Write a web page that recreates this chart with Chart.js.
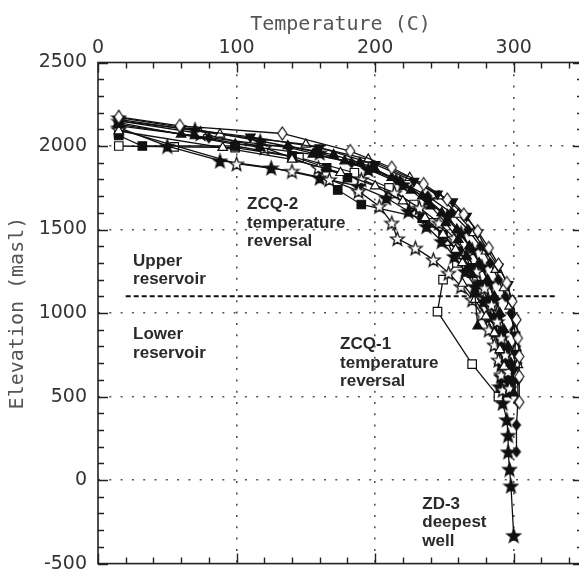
<!DOCTYPE html>
<html>
<head>
<meta charset="utf-8">
<script src="https://cdn.jsdelivr.net/npm/chart.js@4/dist/chart.umd.min.js"></script>
<style>
  html, body { margin: 0; padding: 0; background: #fff; overflow: hidden; }
  #wrap { width: 579px; height: 586px; overflow: hidden; }
  canvas { display: block; }
</style>
</head>
<body>
<div id="wrap"><canvas id="chart" width="610" height="586" style="width:610px;height:586px"></canvas></div>
<script>
// Well temperature profiles: [temperature (C), elevation (masl)]
const wellDiamondOpen = [[15,2174],[59,2121],[133,2075],[182,1970],[212,1870],[235,1772],[252,1680],[264,1590],[274,1490],[282,1390],[289,1290],[295,1180],[299,1070],[302,960],[303,850],[304,740],[304,620],[304,467]];
const wellInvTriangle = [[15,2150],[60,2105],[110,2055],[160,1990],[200,1890],[228,1790],[245,1714],[256,1667],[266,1580],[274,1480],[281,1376],[289,1277],[296,1172],[298,1073],[300,970],[301,870],[301,760],[300,660]];
const wellTriangleA = [[15,2140],[60,2070],[99,2010],[137,2000],[157,1970],[170,1947],[189,1900],[198,1871],[212,1810],[226,1735],[240,1640],[251,1540],[260,1440],[266,1340],[270,1230],[272,1114],[274,921]];
const wellTriangleB = [[15,2130],[70,2060],[117,1990],[155,1950],[178,1910],[200,1860],[218,1790],[234,1700],[248,1600],[259,1500],[268,1400],[275,1300],[281,1200],[286,1100],[290,1000],[293,900],[296,800],[298,700],[299,600],[300,520]];
const wellZCQ1 = [[15,2000],[55,1995],[99,1990],[145,1930],[185,1840],[210,1750],[228,1650],[242,1540],[252,1430],[259,1300],[249,1200],[245,1008],[270,694],[289,500]];
const wellZCQ2 = [[15,2063],[32,2000],[99,2000],[140,1940],[165,1870],[180,1810],[173,1737],[190,1650],[234,1568],[249,1470],[260,1370],[269,1270],[276,1170],[282,1070],[287,970],[291,870],[294,770],[296,670],[298,570]];
const wellZD3 = [[15,2170],[70,2100],[117,2030],[160,1960],[195,1860],[220,1770],[238,1680],[252,1580],[262,1480],[270,1380],[277,1280],[282,1180],[286,1080],[289,980],[291,880],[292,780],[291,690],[291,619],[290,560],[292,462],[295,362],[296,269],[296,170],[297,66],[298,-34],[300,-331]];
const wellStarOpenA = [[15,2150],[74,2075],[120,1990],[159,1871],[190,1800],[214,1720],[232,1630],[246,1540],[257,1450],[266,1350],[273,1250],[279,1150],[284,1050],[288,950],[291,850],[294,750],[296,650],[297,550]];
const wellStarFilledB = [[15,2110],[50,2000],[88,1912],[125,1870],[160,1810],[188,1760],[208,1690],[224,1610],[237,1520],[248,1430],[257,1340],[265,1250],[272,1160],[278,1070],[283,980],[287,890],[290,800],[292,710],[294,620],[295,530]];
const wellStarOpenC = [[15,2100],[100,1894],[140,1850],[167,1800],[188,1730],[203,1640],[212,1540],[216,1446],[229,1390],[242,1320],[253,1240],[262,1160],[270,1080],[277,990],[282,900],[286,810],[289,720],[291,630],[292,540]];
const wellDiamondFilled = [[15,2120],[80,2050],[138,1990],[183,1900],[215,1800],[238,1700],[255,1600],[267,1500],[276,1400],[283,1300],[289,1200],[294,1100],[298,1000],[300,900],[302,800],[303,700],[303,600],[303,467],[302,330],[302,170]];
const wellTriangleOpenA = [[15,2160],[88,2070],[150,2010],[195,1920],[225,1810],[246,1700],[260,1590],[271,1480],[280,1370],[287,1260],[293,1150],[297,1040],[301,893],[302,790],[303,690]];
const wellTriangleOpenB = [[15,2090],[90,1990],[140,1920],[175,1840],[200,1760],[220,1670],[236,1570],[249,1470],[258,1380],[263,1300],[263,1177],[272,1080],[280,980],[286,880],[290,780],[293,680]];

// Boundary between upper and lower reservoir
const reservoirBoundary = [[20,1100],[330,1100]];

// Axes
const xTickLabels = ['0','100','200','300'];
const yTickLabels = ['-500','0','500','1000','1500','2000','2500'];
const xGridValues = [100, 200, 300];
const yGridValues = [0, 500, 1000, 1500, 2000];
const X_MIN = 0, X_MAX = 350, X_MINOR = 20;
const Y_MIN = -500, Y_MAX = 2500, Y_MINOR = 100;

const xTicks = [];
for (let v = X_MIN; v <= X_MAX; v += X_MINOR) xTicks.push(v);
const yTicks = [];
for (let v = Y_MIN; v <= Y_MAX; v += Y_MINOR) yTicks.push(v);
const xLabelValues = xTickLabels.map(Number);
const yLabelValues = yTickLabels.map(Number);

const INK = '#111';

// Marker sprites
function starSprite(filled) {
  const s = 17, c = document.createElement('canvas');
  c.width = s; c.height = s;
  const g = c.getContext('2d');
  const R = 7.2, r = 3.0;
  g.beginPath();
  for (let i = 0; i < 10; i++) {
    const rad = i % 2 ? r : R;
    const a = -Math.PI / 2 + i * Math.PI / 5;
    g.lineTo(s / 2 + rad * Math.cos(a), s / 2 + 0.8 + rad * Math.sin(a));
  }
  g.closePath();
  g.fillStyle = filled ? INK : '#fff';
  g.fill();
  g.lineWidth = 1.3; g.strokeStyle = INK; g.stroke();
  return c;
}
function diamondSprite(filled, w, h) {
  const cw = w + 4, ch = h + 4, c = document.createElement('canvas');
  c.width = cw; c.height = ch;
  const g = c.getContext('2d');
  g.beginPath();
  g.moveTo(cw / 2, 2); g.lineTo(cw - 2, ch / 2); g.lineTo(cw / 2, ch - 2); g.lineTo(2, ch / 2);
  g.closePath();
  g.fillStyle = filled ? INK : '#fff';
  g.fill();
  g.lineWidth = 1.2; g.strokeStyle = INK; g.stroke();
  return c;
}
const starFilled = starSprite(true);
const starOpen = starSprite(false);
const diamondOpen = diamondSprite(false, 9, 13);
const diamondFilled = diamondSprite(true, 8, 10);

function toXY(arr) { return arr.map(p => ({ x: p[0], y: p[1] })); }

function well(data, style, filled, radius, rotation) {
  return {
    data: toXY(data),
    showLine: true,
    borderColor: INK,
    borderWidth: 1.3,
    pointStyle: style,
    pointRadius: radius || 5,
    pointRotation: rotation || 0,
    pointBorderColor: INK,
    pointBorderWidth: 1.2,
    pointBackgroundColor: filled ? INK : '#fff',
    tension: 0
  };
}

const datasets = [
  well(wellDiamondOpen, diamondOpen, false),
  well(wellInvTriangle, 'triangle', true, 5.5, 180),
  well(wellTriangleA, 'triangle', true, 5.5),
  well(wellTriangleB, 'triangle', true, 5.5),
  well(wellTriangleOpenA, 'triangle', false, 5.5),
  well(wellTriangleOpenB, 'triangle', false, 5.5),
  well(wellDiamondFilled, diamondFilled, true),
  well(wellStarOpenA, starOpen, false),
  well(wellStarOpenC, starOpen, false),
  well(wellStarFilledB, starFilled, true),
  well(wellZCQ2, 'rect', true, 6),
  well(wellZCQ1, 'rect', false, 6),
  well(wellZD3, starFilled, true),
  {
    data: toXY(reservoirBoundary),
    showLine: true,
    borderColor: INK,
    borderWidth: 2,
    borderDash: [5, 3],
    pointRadius: 0
  }
];

// Text notes placed in data coordinates
const notes = [
  { x: 25.3, y: 1312, lines: ['Upper', 'reservoir'] },
  { x: 25.3, y: 872, lines: ['Lower', 'reservoir'] },
  { x: 107.6, y: 1650, lines: ['ZCQ-2', 'temperature', 'reversal'] },
  { x: 174.7, y: 811, lines: ['ZCQ-1', 'temperature', 'reversal'] },
  { x: 234, y: -145, lines: ['ZD-3', 'deepest', 'well'] }
];

const frameAndTicks = {
  id: 'frameAndTicks',
  afterDraw(chart) {
    const { ctx, chartArea: a, scales: { x, y } } = chart;
    ctx.save();
    ctx.strokeStyle = '#222';
    ctx.lineWidth = 1.6;
    ctx.strokeRect(a.left, a.top, a.right - a.left, a.bottom - a.top);
    ctx.lineWidth = 1.4;
    ctx.beginPath();
    xTicks.forEach(v => {
      const px = Math.round(x.getPixelForValue(v)) + 0.5;
      const len = v % 100 === 0 ? 10 : 6;
      ctx.moveTo(px, a.top); ctx.lineTo(px, a.top + len);
      ctx.moveTo(px, a.bottom); ctx.lineTo(px, a.bottom - len);
    });
    yTicks.forEach(v => {
      const py = Math.round(y.getPixelForValue(v)) + 0.5;
      const len = v % 500 === 0 ? 10 : 6;
      ctx.moveTo(a.left, py); ctx.lineTo(a.left + len, py);
      ctx.moveTo(a.right, py); ctx.lineTo(a.right - len, py);
    });
    ctx.stroke();

    ctx.fillStyle = '#2a2a2a';
    ctx.font = 'bold 17px "Liberation Sans", Arial, sans-serif';
    ctx.textAlign = 'left';
    ctx.textBaseline = 'middle';
    notes.forEach(n => {
      const px = x.getPixelForValue(n.x);
      const py = y.getPixelForValue(n.y);
      n.lines.forEach((t, i) => ctx.fillText(t, px, py + i * 18.5));
    });
    ctx.restore();
  }
};

new Chart(document.getElementById('chart'), {
  type: 'scatter',
  data: { datasets },
  plugins: [frameAndTicks],
  options: {
    responsive: false,
    animation: false,
    events: [],
    layout: { padding: { left: 0, right: 27, top: 0, bottom: 8 } },
    plugins: { legend: { display: false }, tooltip: { enabled: false } },
    scales: {
      x: {
        type: 'linear',
        position: 'top',
        min: X_MIN, max: X_MAX,
        afterBuildTicks: s => { s.ticks = xTicks.map(v => ({ value: v })); },
        afterFit: s => { s.height = 62.5; },
        ticks: {
          autoSkip: false, maxRotation: 0, padding: 3,
          color: '#333',
          font: { family: 'DejaVu Sans', size: 19 },
          callback: v => xLabelValues.includes(v) ? String(v) : ''
        },
        grid: {
          drawTicks: false,
          lineWidth: 1.6,
          color: c => (c.tick && xGridValues.includes(c.tick.value)) ? '#555' : 'rgba(0,0,0,0)'
        },
        border: { display: false, dash: [2, 9.3] },
        title: {
          display: true, text: 'Temperature (C)', color: '#555',
          font: { family: 'DejaVu Sans Mono', size: 20 },
          padding: { top: 13, bottom: 0 }
        }
      },
      y: {
        type: 'linear',
        position: 'left',
        min: Y_MIN, max: Y_MAX,
        afterBuildTicks: s => { s.ticks = yTicks.map(v => ({ value: v })); },
        afterFit: s => { s.width = 98; },
        ticks: {
          autoSkip: false, padding: 11,
          color: '#333',
          font: { family: 'DejaVu Sans', size: 19 },
          callback: v => yLabelValues.includes(v) ? String(v) : ''
        },
        grid: {
          drawTicks: false,
          lineWidth: 1.6,
          color: c => (c.tick && yGridValues.includes(c.tick.value)) ? '#555' : 'rgba(0,0,0,0)'
        },
        border: { display: false, dash: [2, 9.3] },
        title: {
          display: true, text: 'Elevation (masl)', color: '#555',
          font: { family: 'DejaVu Sans Mono', size: 20 },
          padding: { top: 6, bottom: 0 }
        }
      }
    }
  }
});
</script>
</body>
</html>
